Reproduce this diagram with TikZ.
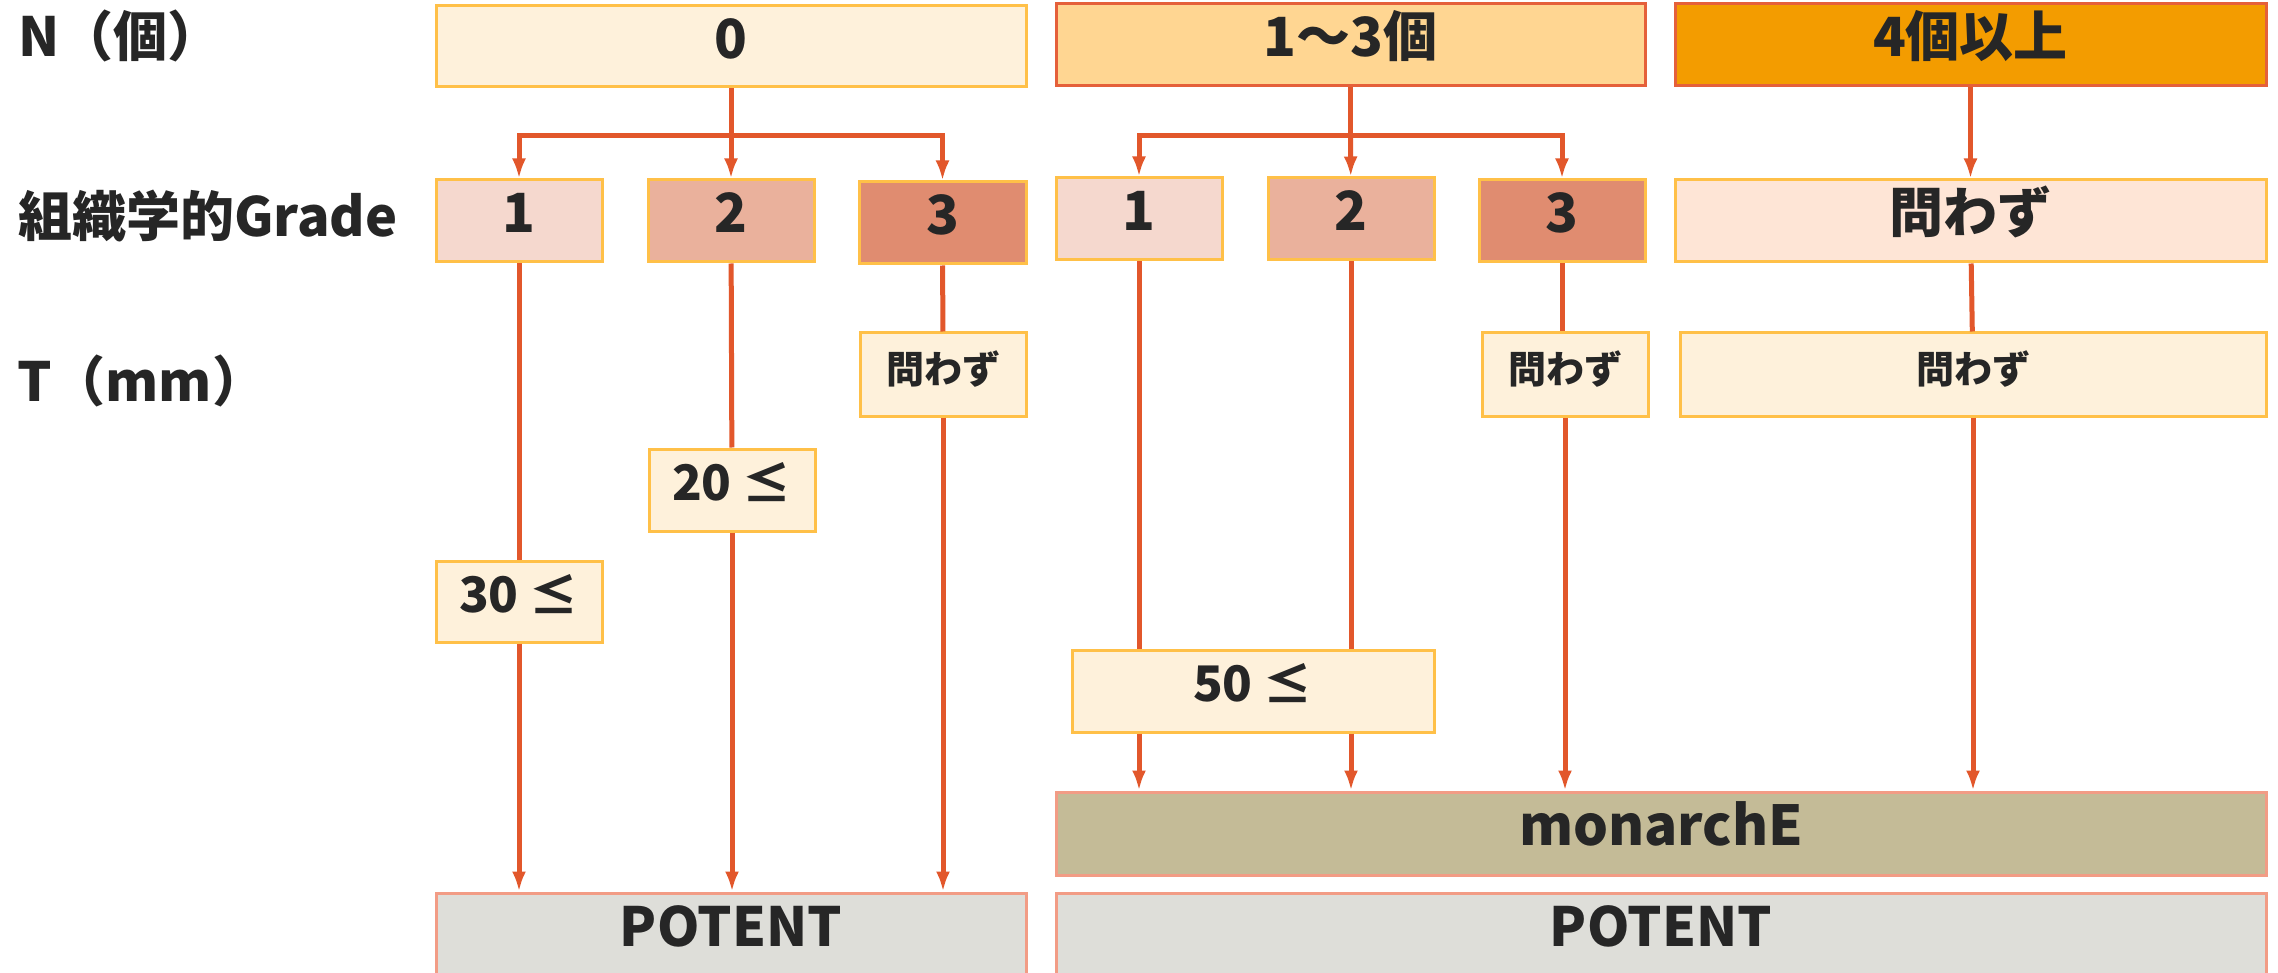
\documentclass[tikz,border=0pt]{standalone}
\usepackage{fontspec}
\setmainfont{Noto Sans CJK JP}
\usetikzlibrary{arrows.meta}
\definecolor{lineC}{HTML}{E2572B}
\definecolor{yBorder}{HTML}{FFC048}
\definecolor{cream}{HTML}{FEF1DB}
\definecolor{nmidFill}{HTML}{FFD692}
\definecolor{rBorder}{HTML}{E5603A}
\definecolor{nhiFill}{HTML}{F39C00}
\definecolor{gaFill}{HTML}{F5D8CE}
\definecolor{gbFill}{HTML}{EAB19C}
\definecolor{gcFill}{HTML}{E08C70}
\definecolor{gdFill}{HTML}{FEE5D6}
\definecolor{monFill}{HTML}{C4BB97}
\definecolor{potFill}{HTML}{DEDED9}
\definecolor{sBorder}{HTML}{F29C85}
\definecolor{txt}{HTML}{262626}
\tikzset{
  bx/.style={draw=yBorder, line width=3pt, inner sep=0pt, text=txt,
    font=\bfseries\fontsize{54}{60}\selectfont, text height=40pt, text depth=16pt},
  sbx/.style={bx, font=\bfseries\fontsize{49}{56}\selectfont, text height=35pt, text depth=14pt},
  qbx/.style={bx, font=\bfseries\fontsize{38}{44}\selectfont, text height=30pt, text depth=11pt},
  lbl/.style={anchor=base west, inner sep=0pt, text=txt, font=\bfseries\fontsize{54}{60}\selectfont},
  conn/.style={draw=lineC, line width=5pt},
  arr/.style={conn, -{Latex[length=20pt,width=14pt]}},
}
\begin{document}
\begin{tikzpicture}[x=1pt,y=-1pt]
\path[use as bounding box, fill=white] (0,0) rectangle (2278,973);
% row labels
\node[lbl] (lN) at (18,57) {N（個）};
\node[lbl] (lG) at (18,237) {組織学的Grade};
\node[lbl] (lT) at (17,402) {T（mm）};
% N row
\node[bx, fill=cream, minimum width=590pt, minimum height=81pt] (n0) at (731,46.5) {0};
\node[bx, fill=nmidFill, draw=rBorder, minimum width=589pt, minimum height=82pt] (n13) at (1350.5,45) {1〜3個};
\node[bx, fill=nhiFill, draw=rBorder, minimum width=591pt, minimum height=82pt] (n4) at (1970.5,45) {4個以上};
% Grade row
\node[bx, fill=gaFill, minimum width=166pt, minimum height=82pt] (g01) at (519,221) {1};
\node[bx, fill=gbFill, minimum width=166pt, minimum height=82pt] (g02) at (731,221) {2};
\node[bx, fill=gcFill, minimum width=167pt, minimum height=82pt] (g03) at (942.5,223) {3};
\node[bx, fill=gaFill, minimum width=166pt, minimum height=82pt] (g11) at (1139,219) {1};
\node[bx, fill=gbFill, minimum width=166pt, minimum height=82pt] (g12) at (1351,219) {2};
\node[bx, fill=gcFill, minimum width=166pt, minimum height=82pt] (g13) at (1562,221) {3};
\node[bx, fill=gdFill, minimum width=591pt, minimum height=82pt] (g4) at (1970.5,221) {問わず};
% T row
\node[qbx, fill=cream, minimum width=166pt, minimum height=83pt] (t03) at (943,374.5) {問わず};
\node[qbx, fill=cream, minimum width=166pt, minimum height=83pt] (t13) at (1565,374.5) {問わず};
\node[qbx, fill=cream, minimum width=586pt, minimum height=83pt] (t4) at (1973,374.5) {問わず};
\node[sbx, fill=cream, minimum width=166pt, minimum height=82pt] (t02) at (732,490) {20 ≤};
\node[sbx, fill=cream, minimum width=166pt, minimum height=81pt] (t01) at (519,601.5) {30 ≤};
\node[sbx, fill=cream, minimum width=362pt, minimum height=82pt] (t50) at (1253,691) {50 ≤};
% results
\node[bx, fill=monFill, draw=sBorder, minimum width=1210pt, minimum height=83pt, font=\bfseries\fontsize{55}{60}\selectfont] (mon) at (1661,833.5) {monarchE};
\node[bx, fill=potFill, draw=sBorder, minimum width=590pt, minimum height=82pt] (potL) at (731,934) {POTENT};
\node[bx, fill=potFill, draw=sBorder, minimum width=1210pt, minimum height=82pt] (potR) at (1661,934) {POTENT};
% branch points
\coordinate (b0) at (731,136);
\coordinate (b1) at (1350.5,136);
% N -> Grade
\draw[conn] (n0) -- (b0);
\draw[arr] (b0) -- (g02);
\draw[arr] (b0) -| (g01.north);
\draw[arr] (b0) -| (g03.north);
\draw[conn] (n13) -- (b1);
\draw[arr] (b1) -- (g12);
\draw[arr] (b1) -| (g11.north);
\draw[arr] (b1) -| (g13.north);
\draw[arr] (n4) -- (g4);
% N = 0 column
\draw[conn] (g01) -- (t01);
\draw[arr] (t01) -- (t01 |- potL.north);
\draw[conn] (g02) -- (t02);
\draw[arr] (t02) -- (t02 |- potL.north);
\draw[conn] (g03) -- (t03);
\draw[arr] (t03) -- (t03 |- potL.north);
% N = 1-3 column
\draw[conn] (g11) -- (g11 |- t50.north);
\draw[arr] (g11 |- t50.south) -- (g11 |- mon.north);
\draw[conn] (g12) -- (g12 |- t50.north);
\draw[arr] (g12 |- t50.south) -- (g12 |- mon.north);
\draw[conn] (g13) -- (g13 |- t13.north);
\draw[arr] (t13) -- (t13 |- mon.north);
\draw[conn] (g4) -- (t4);
\draw[arr] (t4) -- (t4 |- mon.north);
\end{tikzpicture}
\end{document}
